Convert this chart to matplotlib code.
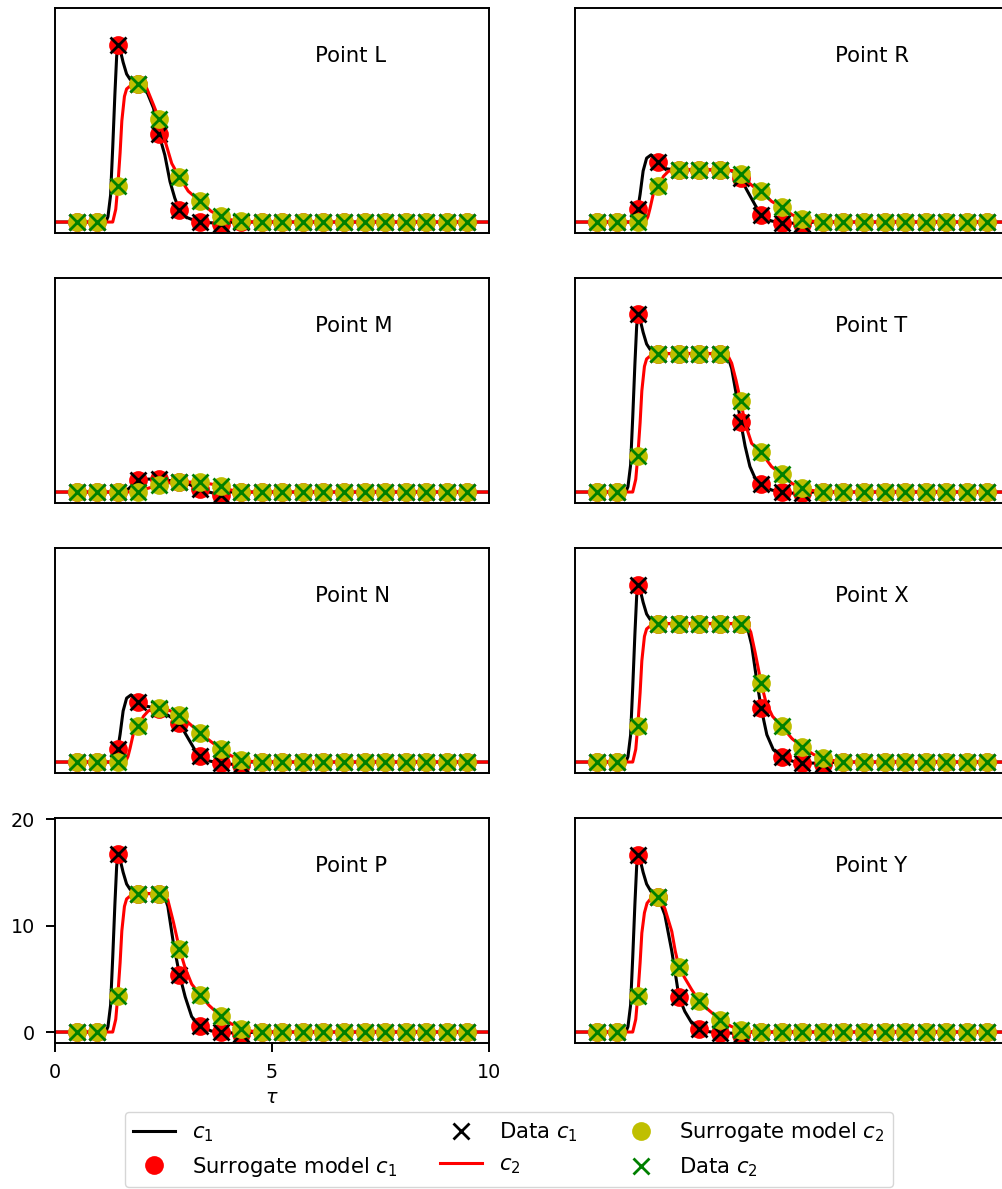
import numpy as np
import matplotlib.pyplot as plt

# sample times of the data / surrogate points
tau_data = np.linspace(0.5, 9.5, 20)

# ---- Point L ----
L_data1 = [0, 0, 16.65, 13.0, 8.26, 1.1, 0.0, -0.15, 0, 0, 0, 0, 0, 0, 0, 0, 0, 0, 0, 0]
L_data2 = [0, 0, 3.35, 13.0, 9.7, 4.2, 1.94, 0.53, 0.06, 0, 0, 0, 0, 0, 0, 0, 0, 0, 0, 0]
L_c1_tau = [0, 1.17, 1.22, 1.28, 1.33, 1.38, 1.42, 1.447, 1.5, 1.57, 1.65, 1.73, 1.921, 2.11, 2.27,
            2.395, 2.53, 2.65, 2.76, 2.868, 3.03, 3.23, 3.4, 3.816, 4.1, 10]
L_c1 = [0, 0, 0.5, 2.5, 7.0, 12.0, 15.5, 16.65, 16.2, 15.0, 13.9, 13.4, 13.0, 12.3, 10.7,
        8.26, 6.3, 3.8, 2.25, 1.1, 0.44, 0.12, 0, -0.15, 0, 0]
L_c2_tau = [0, 1.33, 1.4, 1.447, 1.5, 1.54, 1.6, 1.65, 1.77, 1.921, 2.11, 2.27, 2.395, 2.53, 2.69,
            2.868, 3.07, 3.342, 3.6, 3.816, 4.07, 4.289, 4.6, 10]
L_c2 = [0, 0, 1.2, 3.35, 6.5, 9.5, 11.8, 12.5, 12.9, 13.0, 12.6, 11.0, 9.7, 7.7, 5.5,
        4.2, 2.9, 1.94, 1.0, 0.53, 0.2, 0.06, 0, 0]

# ---- Point R ----
R_data1 = [0, 0, 1.22, 5.63, 4.9, 4.9, 4.9, 4.13, 0.63, -0.1, -0.2, 0, 0, 0, 0, 0, 0, 0, 0, 0]
R_data2 = [0, 0, 0, 3.4, 4.9, 4.9, 4.9, 4.54, 2.88, 1.38, 0.28, 0, 0, 0, 0, 0, 0, 0, 0, 0]
R_c1_tau = [0, 1.28, 1.35, 1.447, 1.5, 1.57, 1.65, 1.75, 1.83, 1.921, 2.0, 2.11, 2.3, 3.5, 3.61,
            3.7, 3.816, 3.96, 4.15, 4.289, 4.4, 4.53, 4.763, 5.0, 5.237, 5.5, 10]
R_c1 = [0, 0, 0.3, 1.22, 2.6, 4.8, 6.0, 6.3, 6.1, 5.63, 5.3, 5.0, 4.9, 4.9, 4.8,
        4.6, 4.13, 3.0, 1.6, 0.63, 0.3, 0.1, -0.1, -0.1, -0.2, 0, 0]
R_c2_tau = [0, 1.62, 1.68, 1.73, 1.8, 1.921, 2.04, 2.15, 2.3, 3.5, 3.65, 3.816, 4.0, 4.15, 4.289,
            4.53, 4.763, 5.0, 5.237, 5.5, 5.8, 10]
R_c2 = [0, 0, 0.5, 1.3, 2.57, 3.4, 4.3, 4.76, 4.9, 4.9, 4.8, 4.54, 3.7, 3.2, 2.88,
        1.94, 1.38, 0.69, 0.28, 0.06, 0, 0]

# ---- Point M ----
M_data1 = [0, 0, 0, 1.1, 1.19, 0.97, 0.25, -0.28, 0, 0, 0, 0, 0, 0, 0, 0, 0, 0, 0, 0]
M_data2 = [0, 0, 0, 0, 0.66, 0.97, 0.9, 0.56, 0, 0, 0, 0, 0, 0, 0, 0, 0, 0, 0, 0]
M_c1_tau = [0, 1.6, 1.75, 1.921, 2.1, 2.395, 2.6, 2.868, 3.1, 3.342, 3.55, 3.816, 4.05, 10]
M_c1 = [0, 0, 0.5, 1.1, 1.22, 1.19, 1.1, 0.97, 0.7, 0.25, 0, -0.28, 0, 0]
M_c2_tau = [0, 1.921, 2.1, 2.395, 2.6, 2.868, 3.342, 3.6, 3.816, 4.05, 4.289, 10]
M_c2 = [0, 0, 0.3, 0.66, 0.85, 0.97, 0.9, 0.75, 0.56, 0.2, 0, 0]

# ---- Point T ----
T_data1 = [0, 0, 16.7, 13.0, 13.0, 13.0, 13.0, 6.6, 0.72, 0, -0.13, 0, 0, 0, 0, 0, 0, 0, 0, 0]
T_data2 = [0, 0, 3.38, 13.0, 13.0, 13.0, 13.0, 8.54, 3.72, 1.66, 0.34, 0, 0, 0, 0, 0, 0, 0, 0, 0]
T_c1_tau = [0, 1.17, 1.22, 1.28, 1.33, 1.38, 1.42, 1.447, 1.5, 1.57, 1.65, 1.73, 1.921, 3.5, 3.61,
            3.71, 3.816, 3.92, 4.03, 4.15, 4.289, 4.53, 4.763, 5.0, 5.237, 5.5, 10]
T_c1 = [0, 0, 0.5, 2.5, 7.0, 12.0, 15.5, 16.7, 16.2, 15.0, 13.9, 13.4, 13.0, 13.0, 11.6,
        9.3, 6.6, 4.3, 2.4, 1.3, 0.72, 0.19, 0, -0.1, -0.13, 0, 0]
T_c2_tau = [0, 1.33, 1.4, 1.447, 1.5, 1.54, 1.6, 1.65, 1.77, 1.921, 3.5, 3.61, 3.71, 3.816, 3.92,
            4.07, 4.289, 4.53, 4.763, 5.0, 5.237, 5.53, 5.8, 10]
T_c2 = [0, 0, 1.2, 3.38, 6.5, 9.5, 11.8, 12.5, 12.9, 13.0, 13.0, 12.1, 10.5, 8.54, 6.45,
        4.57, 3.72, 2.38, 1.66, 0.81, 0.34, 0.1, 0, 0]

# ---- Point N ----
N_data1 = [0, 0, 1.22, 5.63, 5.0, 3.66, 0.53, -0.1, -0.25, 0, 0, 0, 0, 0, 0, 0, 0, 0, 0, 0]
N_data2 = [0, 0, 0, 3.4, 5.07, 4.44, 2.72, 1.25, 0.22, 0, 0, 0, 0, 0, 0, 0, 0, 0, 0, 0]
N_c1_tau = [0, 1.28, 1.35, 1.447, 1.5, 1.57, 1.65, 1.75, 1.83, 1.921, 2.1, 2.395, 2.6, 2.868, 3.0,
            3.1, 3.2, 3.342, 3.55, 3.816, 4.05, 4.289, 4.5, 10]
N_c1 = [0, 0, 0.3, 1.22, 2.6, 4.8, 6.0, 6.3, 6.1, 5.63, 5.25, 5.0, 4.4, 3.66, 2.7,
        2.0, 1.3, 0.53, 0.1, -0.1, -0.2, -0.25, 0, 0]
N_c2_tau = [0, 1.62, 1.68, 1.73, 1.8, 1.921, 2.04, 2.15, 2.3, 2.395, 2.6, 2.868, 3.1, 3.342, 3.6,
            3.816, 4.05, 4.289, 4.55, 4.8, 10]
N_c2 = [0, 0, 0.5, 1.3, 2.57, 3.4, 4.3, 4.8, 5.0, 5.07, 4.9, 4.44, 3.6, 2.72, 1.9,
        1.25, 0.6, 0.22, 0.05, 0, 0]

# ---- Point X ----
X_data1 = [0, 0, 16.65, 13.0, 13.0, 13.0, 13.0, 13.0, 5.07, 0.44, -0.1, -0.2, 0, 0, 0, 0, 0, 0, 0, 0]
X_data2 = [0, 0, 3.41, 13.0, 13.0, 13.0, 13.0, 13.0, 7.42, 3.35, 1.41, 0.4, 0, 0, 0, 0, 0, 0, 0, 0]
X_c1_tau = [0, 1.17, 1.22, 1.28, 1.33, 1.38, 1.42, 1.447, 1.5, 1.57, 1.65, 1.73, 1.921, 3.95, 4.07,
            4.19, 4.289, 4.42, 4.57, 4.763, 5.03, 5.237, 5.5, 5.71, 6.0, 10]
X_c1 = [0, 0, 0.5, 2.5, 7.0, 12.0, 15.5, 16.65, 16.2, 15.0, 13.9, 13.4, 13.0, 13.0, 11.0,
        7.6, 5.07, 2.57, 1.16, 0.44, 0.06, -0.1, -0.1, -0.2, 0, 0]
X_c2_tau = [0, 1.33, 1.4, 1.447, 1.5, 1.54, 1.6, 1.65, 1.77, 1.921, 3.95, 4.05, 4.15, 4.289, 4.4,
            4.55, 4.763, 5.0, 5.237, 5.5, 5.71, 6.0, 6.3, 10]
X_c2 = [0, 0, 1.2, 3.41, 6.5, 9.5, 11.8, 12.5, 12.9, 13.0, 13.0, 12.2, 10.3, 7.42, 5.6,
        4.3, 3.35, 2.2, 1.41, 0.7, 0.4, 0.1, 0, 0]

# ---- Point P ----
P_data1 = [0, 0, 16.7, 13.0, 13.0, 5.4, 0.56, 0, -0.15, 0, 0, 0, 0, 0, 0, 0, 0, 0, 0, 0]
P_data2 = [0, 0, 3.4, 13.0, 13.0, 7.8, 3.5, 1.5, 0.3, 0, 0, 0, 0, 0, 0, 0, 0, 0, 0, 0]
P_c1_tau = [0, 1.17, 1.22, 1.28, 1.33, 1.38, 1.42, 1.447, 1.5, 1.57, 1.65, 1.73, 1.921, 2.5, 2.6,
            2.73, 2.868, 3.0, 3.15, 3.342, 3.6, 3.816, 4.289, 4.6, 10]
P_c1 = [0, 0, 0.5, 2.5, 7.0, 12.0, 15.5, 16.7, 16.2, 15.0, 13.9, 13.4, 13.0, 13.0, 11.8,
        8.3, 5.4, 3.3, 1.44, 0.56, 0.1, 0, -0.15, 0, 0]
P_c2_tau = [0, 1.33, 1.4, 1.447, 1.5, 1.54, 1.6, 1.65, 1.77, 1.921, 2.5, 2.6, 2.73, 2.868, 3.0,
            3.15, 3.342, 3.55, 3.816, 4.05, 4.289, 4.55, 4.8, 10]
P_c2 = [0, 0, 1.2, 3.4, 6.5, 9.5, 11.8, 12.5, 12.9, 13.0, 13.0, 12.4, 10.3, 7.8, 6.0,
        4.5, 3.5, 2.5, 1.5, 0.8, 0.3, 0.07, 0, 0]

# ---- Point Y ----
Y_data1 = [0, 0, 16.65, 12.65, 3.29, 0.31, -0.1, -0.25, 0, 0, 0, 0, 0, 0, 0, 0, 0, 0, 0, 0]
Y_data2 = [0, 0, 3.41, 12.65, 6.1, 2.88, 1.16, 0.16, 0, 0, 0, 0, 0, 0, 0, 0, 0, 0, 0, 0]
Y_c1_tau = [0, 1.17, 1.22, 1.28, 1.33, 1.38, 1.42, 1.447, 1.5, 1.57, 1.65, 1.75, 1.921, 2.07, 2.23,
            2.34, 2.395, 2.53, 2.69, 2.868, 3.05, 3.342, 3.6, 3.816, 4.05, 10]
Y_c1 = [0, 0, 0.5, 2.5, 7.0, 12.0, 15.5, 16.65, 16.2, 15.0, 13.9, 13.2, 12.65, 11.0, 7.6,
        4.76, 3.29, 1.94, 0.85, 0.31, 0.05, -0.1, -0.1, -0.25, 0, 0]
Y_c2_tau = [0, 1.33, 1.4, 1.447, 1.5, 1.54, 1.6, 1.66, 1.75, 1.85, 1.921, 2.07, 2.23, 2.31, 2.395,
            2.53, 2.69, 2.868, 3.07, 3.342, 3.6, 3.816, 4.1, 10]
Y_c2 = [0, 0, 1.2, 3.41, 6.5, 9.3, 11.2, 12.1, 12.55, 12.7, 12.65, 11.6, 9.45, 7.6, 6.1,
        5.07, 3.97, 2.88, 2.1, 1.16, 0.53, 0.16, 0, 0]

# (name, row, col, data c1, data c2, curve c1, curve c2)
panels = [
    ("L", 0, 0, L_data1, L_data2, (L_c1_tau, L_c1), (L_c2_tau, L_c2)),
    ("R", 0, 1, R_data1, R_data2, (R_c1_tau, R_c1), (R_c2_tau, R_c2)),
    ("M", 1, 0, M_data1, M_data2, (M_c1_tau, M_c1), (M_c2_tau, M_c2)),
    ("T", 1, 1, T_data1, T_data2, (T_c1_tau, T_c1), (T_c2_tau, T_c2)),
    ("N", 2, 0, N_data1, N_data2, (N_c1_tau, N_c1), (N_c2_tau, N_c2)),
    ("X", 2, 1, X_data1, X_data2, (X_c1_tau, X_c1), (X_c2_tau, X_c2)),
    ("P", 3, 0, P_data1, P_data2, (P_c1_tau, P_c1), (P_c2_tau, P_c2)),
    ("Y", 3, 1, Y_data1, Y_data2, (Y_c1_tau, Y_c1), (Y_c2_tau, Y_c2)),
]

W, H = 1003, 1189
FS = 15.2       # text / legend
FS_TICK = 13.8  # tick labels
plt.rcParams['font.size'] = FS
plt.rcParams['axes.linewidth'] = 1.4

fig = plt.figure(figsize=(W / 100, H / 100), dpi=100)

ms_o = 13.5
ms_x = 11
mew = 2.0
lw = 2.2

for name, row, col, d1, d2, (t1, c1), (t2, c2) in panels:
    left = 55 if col == 0 else 575
    top = 8 + 270 * row
    ax = fig.add_axes([left / W, 1 - (top + 225) / H, 434 / W, 225 / H])

    ax.plot(t1, c1, color="k", lw=lw, label="$c_1$")
    ax.plot(tau_data, d1, "o", color="r", ms=ms_o, mec="none", label="Surrogate model $c_1$")
    ax.plot(tau_data, d1, "x", color="k", ms=ms_x, mew=mew, label="Data $c_1$")
    ax.plot(t2, c2, color="r", lw=lw, label="$c_2$")
    ax.plot(tau_data, d2, "o", color="y", ms=ms_o, mec="none", label="Surrogate model $c_2$")
    ax.plot(tau_data, d2, "x", color="g", ms=ms_x, mew=mew, label="Data $c_2$")

    ax.text(6, 15, f"Point {name}", fontsize=FS)
    ax.set_xlim(0, 10)
    ax.set_ylim(-1.03, 20.1)

    if row == 3 and col == 0:
        ax.set_xticks([0, 5, 10])
        ax.set_yticks([0, 10, 20])
        ax.tick_params(length=6.5, width=1.4, pad=8, labelsize=FS_TICK)
        ax.set_xlabel(r"$\tau$", labelpad=4, fontsize=FS_TICK)
        handles, labels = ax.get_legend_handles_labels()
    else:
        ax.set_xticks([])
        ax.set_yticks([])

fig.legend(handles, labels, loc="lower center", ncol=3, fontsize=FS,
           borderaxespad=0, bbox_to_anchor=(509 / W, 2 / H))

fig.savefig("out.png", dpi=100)
